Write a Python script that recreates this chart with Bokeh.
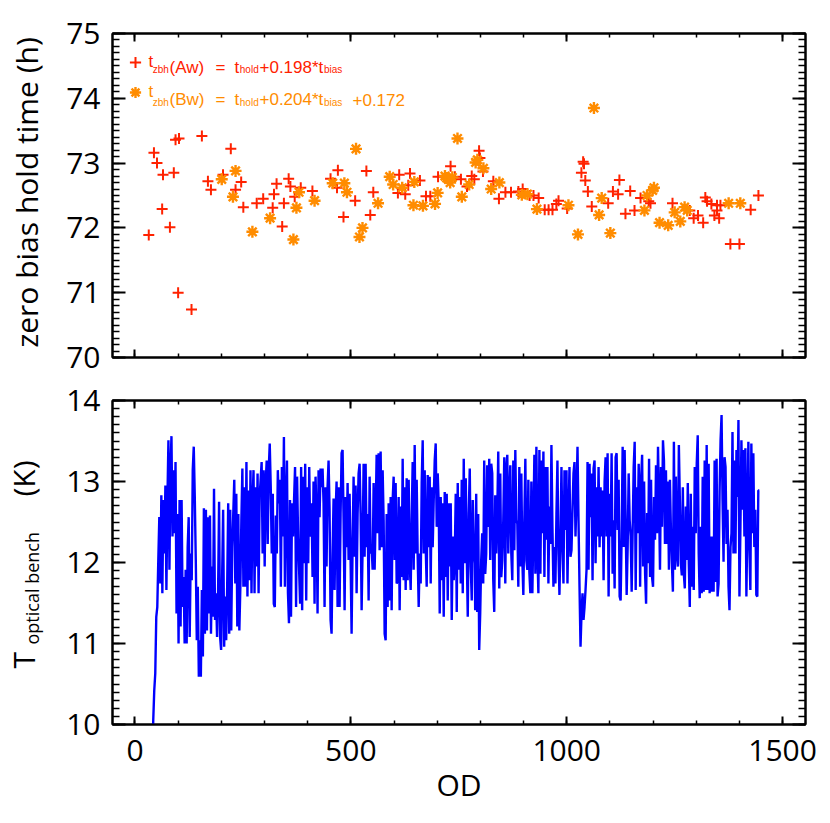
import numpy as np
from bokeh.plotting import figure
from bokeh.models import (Range1d, FixedTicker, LinearAxis, Label, Legend,
                          LegendItem, PrintfTickFormatter)
from bokeh.layouts import column, row
from bokeh.embed import file_html
from bokeh.resources import INLINE

# ---------------- data ----------------
aw_od = [32, 44, 51, 65, 63, 90, 81, 94, 102, 100, 131, 155, 169, 176, 204, 222, 233, 246, 251,
         282, 297, 319, 322, 328, 345, 341, 356, 360, 370, 384, 411, 453, 470, 468, 483, 510, 536,
         552, 545, 612, 609, 626, 637, 633, 660, 674, 684, 702, 731, 741, 755, 769, 780, 786, 797,
         799, 806, 830, 843, 858, 871, 888, 898, 914, 923, 935, 949, 958, 967, 976, 981, 1001,
         1038, 1040, 1034, 1043, 1049, 1058, 1096, 1107, 1119, 1122, 1136, 1147, 1157, 1171, 1190,
         1194, 1245, 1285, 1294, 1304, 1316, 1321, 1325, 1335, 1348, 1348, 1342, 1353, 1356, 1379,
         1400, 1426, 1444]
aw_hold = [71.89, 73.16, 73.00, 72.82, 72.29, 72.85, 72.01, 73.36, 73.38, 71.00, 70.74, 73.42,
           72.72, 72.59, 72.82, 73.22, 72.59, 72.71, 72.32, 72.38, 72.45, 72.31, 72.52, 72.68,
           72.38, 72.02, 72.76, 72.64, 72.48, 72.62, 72.57, 72.76, 72.89, 72.62, 72.17, 72.42,
           72.88, 72.55, 72.20, 72.82, 72.54, 72.52, 72.84, 72.66, 72.73, 72.49, 72.49, 72.79,
           72.95, 72.79, 72.75, 72.64, 72.80, 72.75, 73.19, 73.08, 72.87, 72.72, 72.45, 72.55,
           72.55, 72.56, 72.60, 72.50, 72.50, 72.46, 72.28, 72.28, 72.28, 72.37, 72.42, 72.30,
           73.02, 72.99, 72.85, 72.73, 72.56, 72.33, 72.38, 72.56, 72.52, 72.74, 72.22, 72.57,
           72.27, 72.46, 72.41, 72.38, 72.38, 72.27, 72.15, 72.19, 72.08, 72.47, 72.41, 72.37,
           72.35, 72.27, 72.19, 72.15, 72.35, 71.75, 71.75, 72.28, 72.50]

bw_od = [201, 233, 227, 272, 313, 367, 374, 380, 416, 458, 485, 491, 512, 527, 520, 563, 590,
         598, 619, 647, 645, 667, 695, 701, 718, 722, 726, 730, 735, 747, 757, 774, 789, 793, 807,
         825, 844, 896, 909, 931, 1004, 1026, 1063, 1081, 1075, 1101, 1180, 1186, 1199, 1202,
         1215, 1235, 1250, 1263, 1273, 1279, 1375, 1402]
bw_hold = [72.75, 72.88, 72.48, 71.94, 72.15, 71.82, 72.31, 72.55, 72.42, 72.69, 72.69, 72.55,
           73.22, 72.00, 71.86, 72.38, 72.79, 72.67, 72.62, 72.71, 72.35, 72.34, 72.37, 72.54,
           72.80, 72.77, 72.75, 72.70, 72.78, 73.38, 72.48, 72.67, 73.01, 73.05, 72.92, 72.60,
           72.70, 72.51, 72.52, 72.29, 72.35, 71.90, 73.85, 72.46, 72.20, 71.92, 72.27, 72.50,
           72.58, 72.62, 72.08, 72.04, 72.24, 72.10, 72.32, 72.27, 72.38, 72.38]

# optical bench temperature, read in four consecutive OD stretches
tob_span1 = (40, 406)
tob_1 = [9.0, 10.05, 10.42, 10.63, 11.33, 11.45, 12.03, 12.56, 11.74, 12.83, 11.62, 12.77, 12.11,
         12.95, 11.66, 12.77, 13.51, 11.91, 13.14, 13.56, 12.32, 13.14, 12.36, 13.24, 11.37, 12.60,
         11.00, 12.77, 11.21, 12.77, 11.45, 11.82, 11.00, 11.91, 11.00, 12.19, 12.56, 11.08, 12.11,
         11.78, 13.14, 13.43, 12.81, 12.03, 11.04, 11.70, 10.59, 11.04, 10.59, 11.66, 10.84, 12.67,
         11.12, 12.65, 11.16, 12.56, 11.37, 12.58, 11.12, 11.95, 11.33, 12.91, 11.29, 11.62, 11.08,
         11.62, 12.75, 11.08, 10.92, 11.82, 12.65, 10.96, 11.58, 11.04, 11.70, 12.73, 11.12, 12.65,
         11.16, 12.19, 12.60, 13.02, 11.74, 12.85, 11.21, 12.60, 11.16, 11.70, 12.52, 13.16, 11.70,
         12.93, 11.70, 13.24, 11.58, 12.89, 11.78, 13.14, 11.62, 12.73, 13.14, 11.62, 12.93, 11.95,
         13.10, 11.62, 12.81, 13.02, 13.24, 12.11, 13.14, 11.95, 12.98, 13.26, 12.23, 13.14, 13.47,
         12.93, 12.11, 12.85, 11.49, 11.45, 12.58, 12.11, 13.14, 12.73, 13.02, 11.70, 13.18, 12.32,
         13.55, 11.70, 12.73, 13.26, 11.62, 11.25, 12.77, 11.33, 12.73, 12.32, 12.77, 13.18, 11.45,
         13.06, 12.32, 11.91, 11.49, 13.18, 11.41, 13.06, 11.99, 13.22, 11.53, 12.93, 11.99, 13.18,
         12.32]
tob_span2 = (409, 787)
tob_2 = [12.73, 11.82, 13.00, 11.49, 13.06, 12.56, 11.37, 13.14, 12.56, 13.16, 12.93, 13.16, 12.73,
         11.45, 12.93, 11.95, 12.93, 13.26, 12.65, 11.29, 11.12, 12.11, 12.79, 11.66, 12.60, 13.00,
         11.45, 12.93, 11.45, 12.60, 13.35, 13.39, 12.52, 11.41, 12.81, 12.19, 12.98, 12.03, 12.85,
         12.03, 11.12, 12.23, 13.06, 12.07, 12.95, 11.62, 12.60, 13.10, 13.22, 12.60, 11.41, 12.19,
         13.22, 12.07, 13.22, 12.19, 12.60, 11.53, 13.06, 12.11, 12.19, 11.91, 12.98, 11.91, 12.56,
         13.33, 12.36, 13.35, 12.15, 13.37, 12.19, 13.14, 12.52, 11.12, 11.04, 12.60, 11.45, 12.73,
         11.53, 12.81, 11.41, 12.77, 13.06, 12.03, 12.98, 11.74, 11.78, 12.81, 11.41, 12.69, 11.82,
         13.28, 11.78, 12.93, 11.66, 13.04, 11.78, 13.02, 12.03, 11.66, 12.52, 13.24, 11.91, 13.45,
         12.11, 13.02, 12.07, 11.45, 12.11, 11.74, 12.98, 13.51, 12.11, 13.14, 12.19, 11.70, 13.08,
         12.19, 13.06, 11.74, 12.93, 12.19, 12.77, 13.26, 13.47, 12.44, 13.10, 12.73, 11.37, 12.81,
         11.78, 12.73, 11.33, 12.87, 11.82, 12.85, 11.53, 12.73, 11.95, 12.73, 11.29, 12.32, 11.78,
         12.07, 12.85, 11.39, 12.98, 11.91, 12.81, 11.74, 13.02, 11.62, 13.28, 11.99, 13.04, 12.11,
         11.33, 12.60, 13.16, 11.95, 11.53, 12.77, 12.15, 11.99]
tob_span3 = (788, 1169)
tob_3 = [11.41, 12.85, 11.39, 12.60, 10.92, 11.37, 12.03, 12.36, 11.74, 13.26, 11.86, 12.11, 13.20,
         12.44, 13.28, 12.03, 13.22, 13.10, 11.78, 11.39, 12.83, 12.11, 12.60, 13.37, 11.68, 13.10,
         11.82, 12.03, 12.52, 13.30, 11.74, 13.14, 13.33, 12.11, 12.81, 13.20, 12.11, 11.78, 13.26,
         12.15, 13.39, 12.52, 12.48, 11.70, 13.18, 11.95, 13.10, 12.03, 11.60, 12.52, 13.28, 12.03,
         11.91, 13.02, 11.88, 11.62, 13.00, 11.62, 12.44, 13.33, 11.86, 13.43, 12.15, 11.62, 13.39,
         11.86, 13.26, 12.36, 13.37, 11.82, 13.18, 12.28, 13.18, 11.74, 12.69, 12.23, 13.45, 12.44,
         11.70, 12.19, 11.74, 12.60, 13.26, 12.11, 11.60, 12.28, 13.18, 12.23, 11.74, 13.14, 12.40,
         13.14, 11.74, 12.52, 13.18, 12.07, 12.15, 12.65, 13.10, 13.24, 12.32, 12.81, 13.43, 12.52,
         11.70, 10.96, 11.37, 11.62, 11.29, 11.45, 11.66, 11.91, 13.24, 11.91, 13.22, 12.56, 13.10,
         11.78, 13.16, 13.26, 11.99, 12.93, 12.32, 13.18, 12.19, 12.93, 12.32, 12.89, 11.78, 13.00,
         13.30, 12.32, 13.35, 11.58, 12.85, 12.32, 13.35, 11.86, 12.52, 11.68, 13.30, 13.35, 12.40,
         13.02, 11.58, 11.53, 12.32, 13.43, 12.19, 13.39, 12.52, 11.60, 12.19, 13.10, 12.52, 12.32,
         11.64, 12.40, 13.18, 13.49, 11.66, 12.93, 12.36, 13.22, 12.52]
tob_span4 = (1170, 1446)
tob_4 = [11.70, 13.02, 13.33, 11.95, 13.00, 11.86, 11.49, 12.61, 11.99, 13.28, 11.82, 13.02, 11.82,
         11.70, 12.81, 12.28, 13.20, 12.36, 13.43, 12.77, 11.91, 13.18, 12.44, 13.51, 13.26, 12.23,
         13.14, 12.23, 13.00, 11.91, 13.02, 12.40, 11.99, 11.64, 13.49, 11.91, 13.06, 12.11, 11.95,
         13.45, 12.77, 11.99, 11.84, 12.93, 11.86, 11.68, 12.69, 12.03, 12.98, 11.99, 11.45, 12.85,
         11.70, 12.44, 11.66, 13.18, 12.36, 13.22, 13.57, 12.11, 11.56, 12.44, 11.62, 13.06, 11.64,
         13.26, 11.66, 13.45, 11.66, 13.22, 11.62, 12.32, 11.64, 12.32, 11.64, 13.26, 11.76, 13.28,
         11.58, 11.74, 12.87, 13.51, 13.82, 12.77, 12.01, 13.30, 13.18, 12.23, 12.65, 11.70, 11.41,
         12.19, 12.36, 13.61, 12.11, 13.26, 12.11, 13.39, 12.81, 13.76, 11.58, 12.44, 13.51, 12.65,
         13.39, 12.32, 13.41, 11.58, 12.52, 13.49, 12.19, 11.66, 13.47, 12.36, 13.35, 12.19, 12.65,
         11.60, 11.58, 12.89, 12.89]

od_ticks = [0, 500, 1000, 1500]
hold_ticks = [70, 71, 72, 73, 74, 75]
temp_ticks = [10, 11, 12, 13, 14]

# ---------------- style ----------------
FONT = "Open Sans"
LFONT = "Liberation Sans"
TICK_SIZE = "30px"
RED = "#FF2200"
ORANGE = "#FF8C00"
BLUE = "#0000FF"

TITLE_W = 60          # width of the strip holding the rotated y titles
TOP_H = 33 + 324 + 20
BOT_H = 23 + 324 + 80

x_range = Range1d(-52, 1553)
x_ticker = FixedTicker(ticks=od_ticks, minor_ticks=list(np.arange(0, 1600, 100)))


def style_axis(ax, major_len, minor_len, labels):
    ax.axis_line_width = 2
    ax.axis_line_color = "black"
    ax.major_tick_in = major_len
    ax.major_tick_out = 0
    ax.minor_tick_in = minor_len
    ax.minor_tick_out = 0
    ax.major_tick_line_width = 2
    ax.minor_tick_line_width = 1.5
    ax.major_tick_line_color = "black"
    ax.minor_tick_line_color = "black"
    ax.major_label_text_font = FONT
    ax.major_label_text_color = "black"
    if labels:
        ax.major_label_text_font_size = TICK_SIZE
    else:
        ax.formatter = PrintfTickFormatter(format="")
        ax.major_label_text_font_size = "0px"
        ax.major_label_standoff = 0


def make_fig(y_range, y_ticker, top_b, bottom_b, x_labels):
    p = figure(frame_width=693, frame_height=324, x_range=x_range, y_range=y_range,
               output_backend="svg", toolbar_location=None,
               min_border_left=112 - TITLE_W, min_border_right=17,
               min_border_top=top_b, min_border_bottom=bottom_b)
    p.xgrid.visible = False
    p.ygrid.visible = False
    p.outline_line_color = "black"
    p.outline_line_width = 2
    p.background_fill_color = "white"
    p.border_fill_color = "white"
    bottom_ax = p.below[0]
    left_ax = p.left[0]
    bottom_ax.ticker = x_ticker
    left_ax.ticker = y_ticker
    style_axis(bottom_ax, 8, 4, x_labels)
    style_axis(left_ax, 13, 7, True)
    left_ax.major_label_standoff = 12
    top = LinearAxis(ticker=x_ticker)
    style_axis(top, 8, 4, False)
    p.add_layout(top, "above")
    right = LinearAxis(ticker=y_ticker)
    style_axis(right, 13, 7, False)
    p.add_layout(right, "right")
    return p, bottom_ax


def text(p, s, x, y, size, color="black", font=FONT, angle=0.0, align="left"):
    p.add_layout(Label(x=x, y=y, x_units="screen", y_units="screen", text=s,
                       text_font=font, text_font_size=f"{size}px", text_color=color,
                       angle=angle, text_align=align, text_baseline="alphabetic"))


# ---------------- top panel ----------------
hold_ticker = FixedTicker(ticks=hold_ticks, minor_ticks=list(np.round(np.arange(70, 75.01, 0.1), 2)))
p1, _ = make_fig(Range1d(70, 75), hold_ticker, 33, 20, False)
r_aw = p1.scatter(aw_od, aw_hold, marker="cross", size=11, line_width=2, line_color=RED)
r_bw = p1.scatter(bw_od, bw_hold, marker="asterisk", size=12, line_width=2.4, line_color=ORANGE)

# legend keys (the real markers) followed by the first letter of each formula
for rend, col, bot_y in ((r_aw, RED, 281.5), (r_bw, ORANGE, 251.3)):
    leg = Legend(items=[LegendItem(label="t", renderers=[rend])], location=(8.5, bot_y),
                 glyph_width=28, glyph_height=28, label_height=28, label_standoff=-2,
                 padding=0, margin=0, spacing=0, border_line_color=None,
                 background_fill_alpha=0, label_text_font=LFONT, label_text_font_size="17px",
                 label_text_color=col)
    p1.add_layout(leg)

for col, base, sub, mid, tail, extra in (
        (RED, 290, 287.7, "(Aw)", "+0.198*t", None),
        (ORANGE, 257.7, 255.3, "(Bw)", "+0.204*t", "+0.172")):
    text(p1, "zbh", 40.3, sub, 10, col, LFONT)
    text(p1, mid, 57, base, 17, col, LFONT)
    text(p1, "=", 103, base, 17, col, LFONT)
    text(p1, "t", 122, base, 17, col, LFONT)
    text(p1, "hold", 127.3, sub, 10, col, LFONT)
    text(p1, tail, 147, base, 17, col, LFONT)
    text(p1, "bias", 211.5, sub, 10, col, LFONT)
    if extra:
        text(p1, extra, 240, base, 17, col, LFONT)

# ---------------- bottom panel ----------------
temp_ticker = FixedTicker(ticks=temp_ticks, minor_ticks=list(np.round(np.arange(10, 14.01, 0.1), 2)))
p2, p2_bottom = make_fig(Range1d(10, 14), temp_ticker, 23, 80, True)
p2_bottom.major_label_standoff = 15
p2_bottom.axis_label = "OD"
p2_bottom.axis_label_text_font = FONT
p2_bottom.axis_label_text_font_size = TICK_SIZE
p2_bottom.axis_label_text_font_style = "normal"
p2_bottom.axis_label_text_color = "black"
p2_bottom.axis_label_standoff = 0

tob_od = np.concatenate([np.linspace(a, b, len(s)) for (a, b), s in
                         ((tob_span1, tob_1), (tob_span2, tob_2), (tob_span3, tob_3), (tob_span4, tob_4))])
tob_k = np.concatenate([tob_1, tob_2, tob_3, tob_4])
p2.line(tob_od, tob_k, line_color=BLUE, line_width=2.4)

# ---------------- strip with the rotated y-axis titles ----------------
total_h = TOP_H + BOT_H
pt = figure(width=TITLE_W, height=total_h, x_range=Range1d(0, 1), y_range=Range1d(0, 1),
            x_axis_type=None, y_axis_type=None, output_backend="svg", toolbar_location=None,
            min_border=0, outline_line_color=None)
pt.xgrid.visible = False
pt.ygrid.visible = False
text(pt, "zero bias hold time (h)", 26, total_h - 192, 30, angle=np.pi / 2, align="center")
text(pt, "T", 23, total_h - 668, 30, angle=np.pi / 2)
text(pt, "optical bench", 31, total_h - 644, 18, angle=np.pi / 2)
text(pt, "(K)", 23, total_h - 496, 30, angle=np.pi / 2)

layout = row(pt, column(p1, p2))
open("out.html", "w").write(file_html(layout, INLINE))
